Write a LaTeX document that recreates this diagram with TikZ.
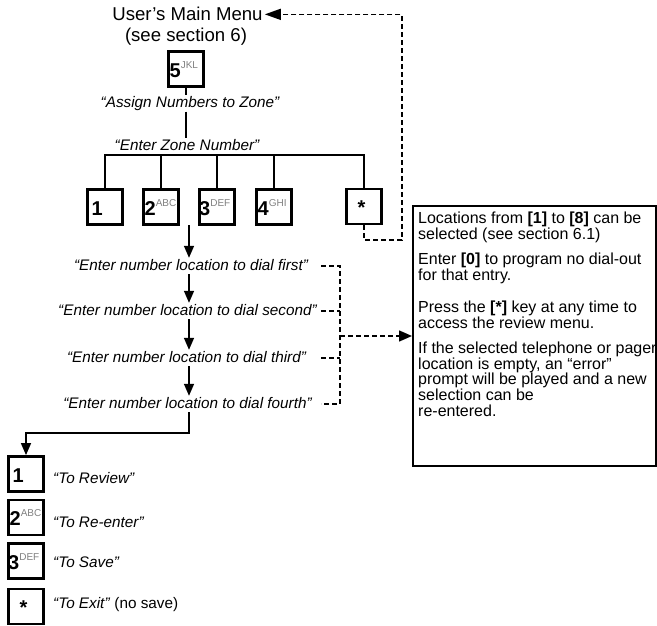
\documentclass[tikz,border=0pt]{standalone}
\usepackage{fontspec}
\setmainfont{Liberation Sans}
\usetikzlibrary{arrows.meta}
\definecolor{supgray}{gray}{0.5}
\newcommand{\keylab}[2]{{\fontsize{20}{20}\selectfont\bfseries #1}\raisebox{9pt}{\fontsize{10}{10}\selectfont\color{supgray}#2}}
\begin{document}
\begin{tikzpicture}[x=1pt,y=-1pt,
  conn/.style={line width=1.5pt},
  dashln/.style={line width=1.5pt, dash pattern=on 5pt off 3pt},
  arr/.style={-{Triangle[length=12pt,width=10pt]}},
  keybox/.style={draw, line width=2.8pt, minimum width=35pt, minimum height=35pt, inner sep=1.2pt, text width=32.6pt, align=left, text height=16.5pt, text depth=0pt},
  prompt/.style={font=\fontsize{15.3}{18}\selectfont\itshape, inner sep=1.5pt, text height=11pt, text depth=2pt},
  label/.style={font=\fontsize{15.3}{18}\selectfont\itshape, inner sep=0pt},
  titletxt/.style={font=\fontsize{18.6}{20}\selectfont, inner sep=2pt},
  infobox/.style={draw, line width=2pt, minimum width=242.5pt, minimum height=260pt, inner sep=0pt},
  infotxt/.style={font=\fontsize{16}{15.7}\selectfont, inner sep=0pt, align=left}
]
\useasboundingbox (0,0) rectangle (657,626);

% title
\node[titletxt, anchor=base] (title) at (187.5,21) {User’s Main Menu};
\node[titletxt, anchor=base] (sub) at (186,41.5) {(see section 6)};

% keys and prompts
\node[keybox] (k5) at (186,69) {\keylab{5}{JKL}};
\node[prompt, anchor=base] (pA) at (190,108) {“Assign Numbers to Zone”};
\node[prompt, anchor=base] (pZ) at (187,150.5) {“Enter Zone Number”};

\node[keybox] (k1) at (105,207) {\hspace{3pt}\keylab{1}{}};
\node[keybox] (k2) at (161,207) {\keylab{2}{ABC}};
\node[keybox] (k3) at (217,207) {\hspace{-1.5pt}\keylab{3}{DEF}};
\node[keybox] (k4) at (274,207) {\keylab{4}{GHI}};
\node[keybox] (ks) at (364,206.5) {\hspace{10pt}\keylab{*}{}};

\node[prompt, anchor=base] (p1) at (191,270.5) {“Enter number location to dial first”};
\node[prompt, anchor=base] (p2) at (187.5,315.5) {“Enter number location to dial second”};
\node[prompt, anchor=base] (p3) at (186.5,362.5) {“Enter number location to dial third”};
\node[prompt, anchor=base] (p4) at (187.5,408.5) {“Enter number location to dial fourth”};

% info box
\node[infobox] (info) at (534.25,336) {};
\node[infotxt, anchor=north west] (infotext) at (418,212) {Locations from \textbf{[1]} to \textbf{[8]} can be\\ selected (see section 6.1)\\[9.5pt] Enter \textbf{[0]} to program no dial-out\\ for that entry.\\[16.5pt] Press the \textbf{[*]} key at any time to\\ access the review menu.\\[9.5pt] If the selected telephone or pager\\ location is empty, an “error”\\ prompt will be played and a new\\ selection can be\\ re-entered.};

% bottom menu
\node[keybox] (b1) at (26,474) {\hspace{3pt}\keylab{1}{}};
\node[keybox] (b2) at (26,517.5) {\keylab{2}{ABC}};
\node[keybox] (b3) at (26,561) {\hspace{-1.5pt}\keylab{3}{DEF}};
\node[keybox] (bs) at (26,606.5) {\hspace{10pt}\keylab{*}{}};

\node[label, anchor=base west] (l1) at (53,483) {“To Review”};
\node[label, anchor=base west] (l2) at (53,527) {“To Re-enter”};
\node[label, anchor=base west] (l3) at (53,567) {“To Save”};
\node[label, anchor=base west] (l4) at (53,608) {“To Exit”\ \textup{(no save)}};

% connectors
\draw[conn] (k5.south) -- (k5.south |- pA.north);
\draw[conn] (pA.south -| k5.south) -- (pZ.north -| k5.south);
\coordinate (busy) at (0,155);
\draw[conn] (k1.north) |- (busy -| ks.north) -- (ks.north)
  (k2.north) -- (k2.north |- busy)
  (k3.north) -- (k3.north |- busy)
  (k4.north) -- (k4.north |- busy);

\coordinate (rc) at (402,240);
\draw[dashln, -{Triangle[length=16pt,width=11pt]}] (ks.south) |- (rc) |- (title.east);

\coordinate (a0) at (189,225);
\draw[conn,arr] (a0) -- (p1.north -| a0);
\draw[conn,arr] (p1.south -| a0) -- (p2.north -| a0);
\draw[conn,arr] (p2.south -| a0) -- (p3.north -| a0);
\draw[conn,arr] (p3.south -| a0) -- (p4.north -| a0);
\draw[conn,arr] (p4.south -| a0) -- ++(0,21) -| (b1.north);

\coordinate (dx) at (321,0);
\coordinate (bx) at (340,0);
\draw[dashln] (p1.east -| dx) -- (p1.east -| bx) -- (p4.east -| bx) -- (p4.east -| dx);
\draw[dashln] (p2.east -| dx) -- (p2.east -| bx);
\draw[dashln] (p3.east -| dx) -- (p3.east -| bx);
\draw[dashln, -{Triangle[length=13pt,width=11pt]}] (info.west -| bx) -- (info.west);
\end{tikzpicture}
\end{document}
